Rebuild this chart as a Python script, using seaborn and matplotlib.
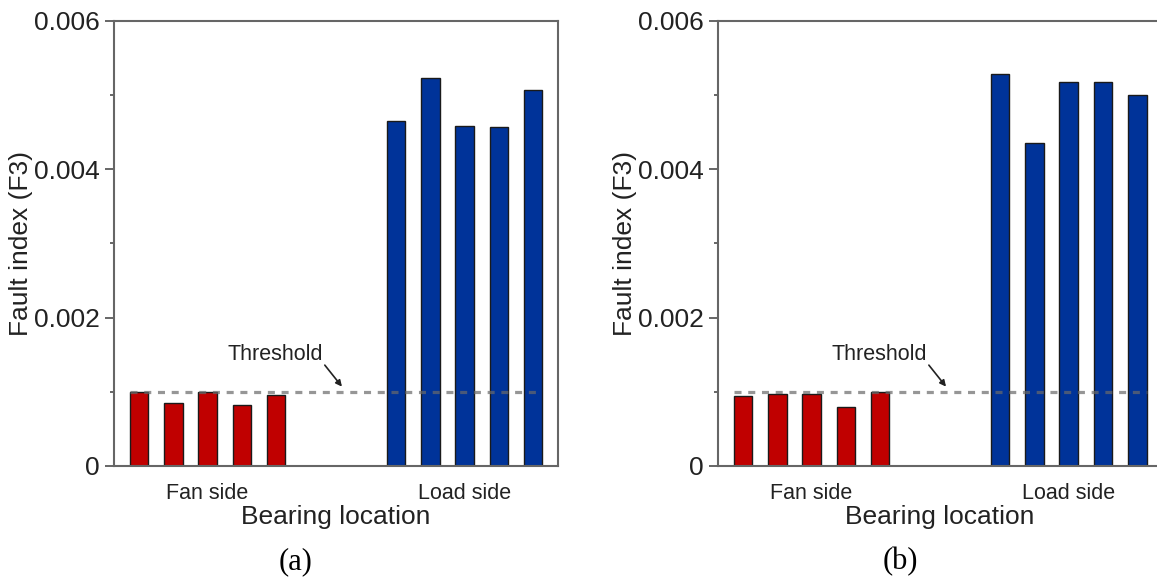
import matplotlib
matplotlib.use("Agg")
import matplotlib.pyplot as plt
from matplotlib.ticker import MultipleLocator, FixedLocator
import numpy as np
import pandas as pd
import seaborn as sns

# ---- data -------------------------------------------------------------
groups = ["Fan side", "Load side"]
fan_pos = [0, 1, 2, 3, 4]
load_pos = [7.5, 8.5, 9.5, 10.5, 11.5]

fan_a = [0.00100, 0.000846, 0.00100, 0.000827, 0.000960]
load_a = [0.00465, 0.00523, 0.00459, 0.00457, 0.00507]

fan_b = [0.000945, 0.000970, 0.000975, 0.000798, 0.00100]
load_b = [0.00528, 0.00435, 0.00518, 0.00518, 0.00500]

threshold = 0.001
panel_labels = ["(a)", "(b)"]

# ---- style -------------------------------------------------------------
sns.set_theme(style="ticks")
plt.rcParams["font.family"] = ["Liberation Sans", "DejaVu Sans"]

RED = "#C00000"
BLUE = "#003399"
SPINE = "#666666"
TEXT = "#222222"

fig = plt.figure(figsize=(11.57, 5.78), dpi=100)
ax_a = fig.add_axes([0.0985, 0.1938, 0.3837, 0.7699])
ax_b = fig.add_axes([0.6206, 0.1938, 0.3837, 0.7699])


def draw_panel(ax, fan_vals, load_vals, label):
    df = pd.DataFrame({
        "pos": fan_pos + load_pos,
        "value": fan_vals + load_vals,
        "side": [groups[0]] * len(fan_pos) + [groups[1]] * len(load_pos),
    })
    sns.barplot(data=df, x="pos", y="value", hue="side",
                palette={groups[0]: RED, groups[1]: BLUE}, saturation=1,
                native_scale=True, dodge=False, width=0.54,
                edgecolor="#1a1a1a", linewidth=1.0, legend=False,
                ax=ax, zorder=2)

    # threshold level, spanning the outer bar edges
    half = 0.27
    ax.hlines(threshold, fan_pos[0] - half, load_pos[-1] + half,
              colors="#6a6a6a", linestyles=(0, (2.2, 2.1)), linewidth=2.3,
              alpha=0.7, zorder=3)
    ax.text(3.98, 0.00150, "Threshold", ha="center", va="center",
            fontsize=15.5, color=TEXT)
    ax.annotate("", xy=(5.92, 0.00107), xytext=(5.42, 0.00136),
                arrowprops=dict(arrowstyle="-|>", color="#222222", lw=1.2,
                                mutation_scale=9, shrinkA=0, shrinkB=0))

    ax.set_xlim(-0.73, 12.22)
    ax.set_ylim(0, 0.006)

    ax.yaxis.set_major_locator(FixedLocator([0, 0.002, 0.004, 0.006]))
    ax.yaxis.set_minor_locator(MultipleLocator(0.001))
    ax.set_yticklabels(["0", "0.002", "0.004", "0.006"])
    ax.set_xticks([np.mean(fan_pos), np.mean(load_pos)])
    ax.set_xticklabels(groups)

    ax.tick_params(axis="y", which="major", length=6.5, width=1.4,
                   color=SPINE, labelsize=19, labelcolor=TEXT, pad=4)
    ax.tick_params(axis="y", which="minor", length=3, width=1.4,
                   color=SPINE)
    ax.tick_params(axis="x", which="both", length=0, labelsize=15.5,
                   labelcolor=TEXT, pad=12)

    for sp in ax.spines.values():
        sp.set_visible(True)
        sp.set_color(SPINE)
        sp.set_linewidth(1.5)

    ax.set_xlabel("Bearing location", fontsize=19, color=TEXT, labelpad=1)
    ax.set_ylabel("Fault index (F3)", fontsize=19, color=TEXT)
    ax.yaxis.set_label_coords(-0.182, 0.5)

    ax.text(0.41, -0.215, label, transform=ax.transAxes, ha="center",
            va="center", fontsize=22, family="Liberation Serif",
            color="black")


draw_panel(ax_a, fan_a, load_a, panel_labels[0])
draw_panel(ax_b, fan_b, load_b, panel_labels[1])

fig.savefig("out.png", dpi=100)
